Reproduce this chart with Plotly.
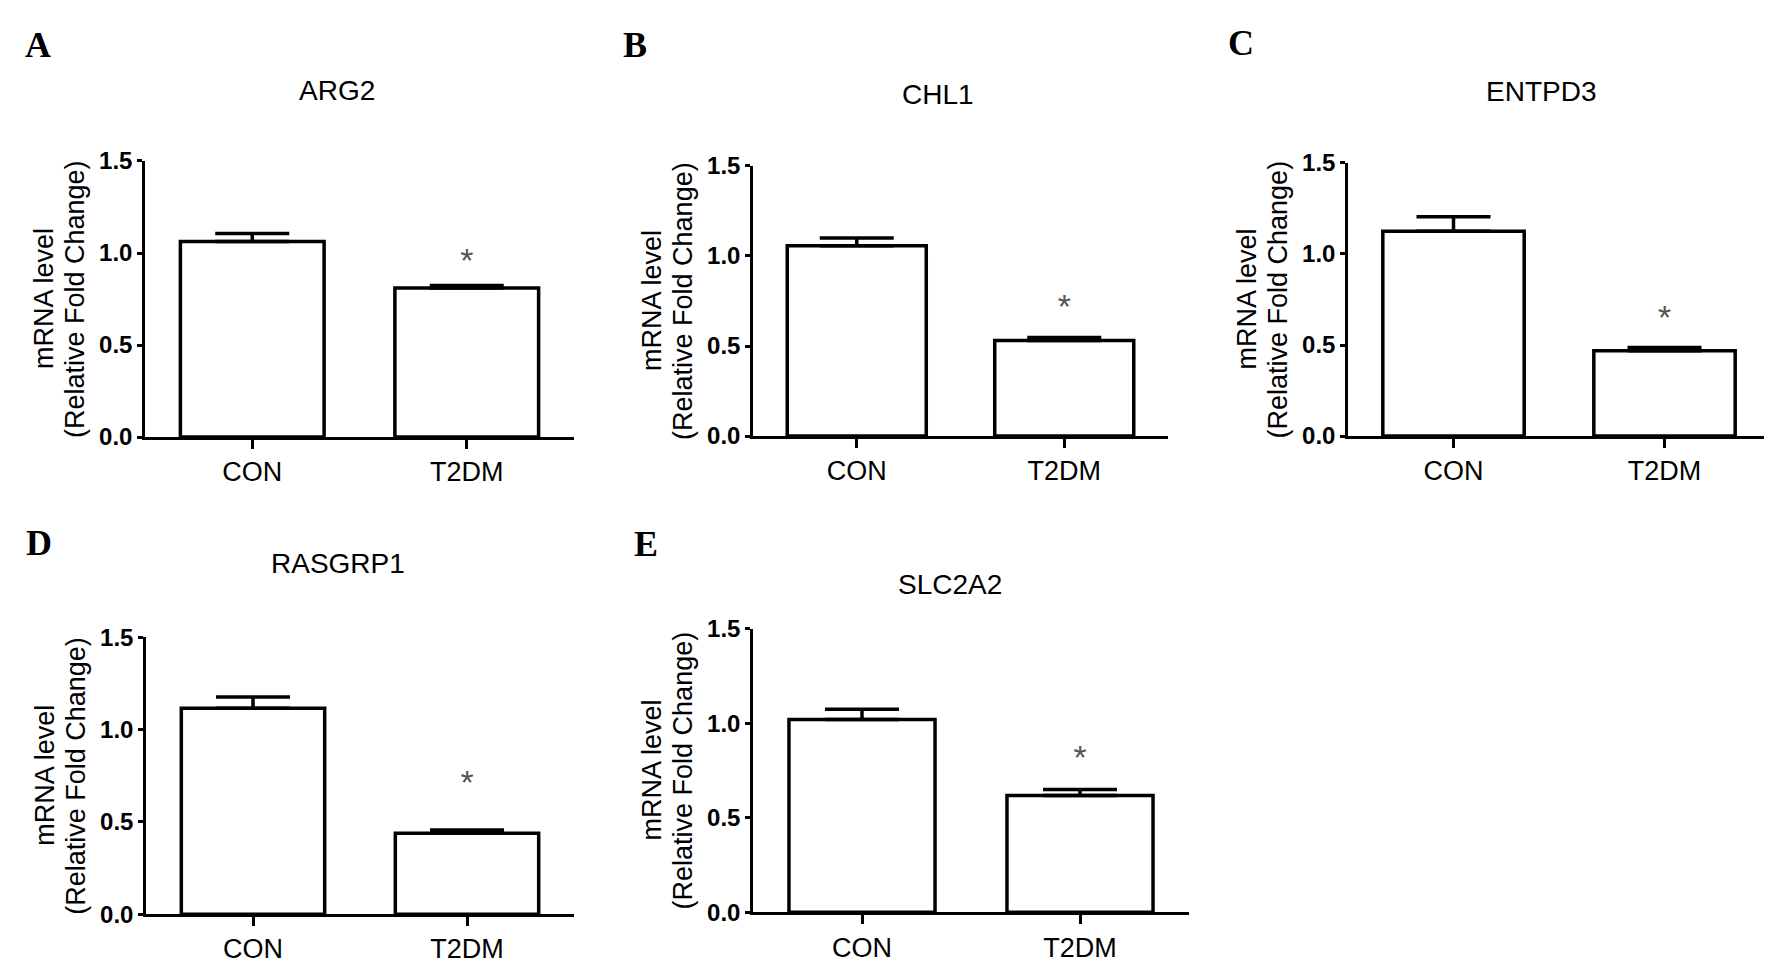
import plotly.graph_objects as go

W, H = 1772, 965

genes = ["ARG2", "CHL1", "ENTPD3", "RASGRP1", "SLC2A2"]
letters = ["A", "B", "C", "D", "E"]
groups = ["CON", "T2DM"]
con_mean = [1.062, 1.056, 1.125, 1.116, 1.019]
con_sem = [0.044, 0.044, 0.079, 0.061, 0.054]
t2dm_mean = [0.810, 0.531, 0.468, 0.439, 0.618]
t2dm_sem = [0.014, 0.016, 0.018, 0.017, 0.032]
star_y = [0.945, 0.70, 0.635, 0.70, 0.805]
y_ticks = [0.0, 0.5, 1.0, 1.5]
ytitle = ["mRNA level", "(Relative Fold Change)"]

# panel boxes in pixels: x0, x1, y_top, y_bottom
boxes = [(137, 566, 143, 427), (745, 1160, 148, 426), (1340, 1762, 145, 426),
         (138, 566, 633, 918), (745, 1181, 624, 916)]
title_pos = [(329, 70), (930, 75), (1533, 72), (330, 557), (942, 579)]
letter_pos = [(30, 24), (627, 24), (1233, 22), (31, 536), (638, 537)]

def px(x):
    return x / W

def py(y):
    return 1 - y / H

fig = go.Figure()
sans = "Liberation Sans, Arial"

for i, g in enumerate(genes):
    n = "" if i == 0 else str(i + 1)
    xa, ya = "x" + n, "y" + n
    fig.add_trace(go.Bar(
        x=groups, y=[con_mean[i], t2dm_mean[i]], xaxis=xa, yaxis=ya,
        width=0.67, marker=dict(color="white", line=dict(color="black", width=3.5)),
        error_y=dict(type="data", symmetric=False, array=[con_sem[i], t2dm_sem[i]],
                     arrayminus=[0, 0], color="black", thickness=3.5, width=37),
        showlegend=False))
    fig.add_trace(go.Scatter(
        x=[groups[1]], y=[star_y[i]], xaxis=xa, yaxis=ya, mode="text", text=["*"],
        textfont=dict(family=sans, size=34, color="#555555"), showlegend=False))

    x0, x1, yt, yb = boxes[i]
    fig.layout["xaxis" + n] = dict(
        domain=[px(x0), px(x1)], anchor=ya, range=[-0.5, 1.5], showline=True,
        linecolor="black", linewidth=2.5, ticks="outside", ticklen=9, tickwidth=2.5,
        tickcolor="black", showgrid=False, zeroline=False,
        tickfont=dict(family=sans, size=27, color="black"))
    fig.layout["yaxis" + n] = dict(
        domain=[py(yb), py(yt)], anchor=xa, range=[0, 1.5], tickvals=y_ticks,
        tickformat=".1f", showline=True, linecolor="black", linewidth=2.5,
        ticks="outside", ticklen=5, tickwidth=2.5, tickcolor="black",
        showgrid=False, zeroline=False,
        tickfont=dict(family=sans, size=24, color="black", weight="bold"))

    # two-line y title, one annotation per line
    for k, line in enumerate(ytitle):
        fig.add_annotation(x=px(x0 - 101 + 31 * k), y=py((yt + yb) / 2),
                           xref="paper", yref="paper", text=line, textangle=-90,
                           showarrow=False, xanchor="center", yanchor="middle",
                           font=dict(family=sans, size=27, color="black"))

    tx, ty = title_pos[i]
    fig.add_annotation(x=px(tx), y=py(ty), xref="paper", yref="paper", text=g,
                       showarrow=False, xanchor="center", yanchor="middle",
                       font=dict(family=sans, size=28, color="black"))
    lx, ly = letter_pos[i]
    fig.add_annotation(x=px(lx), y=py(ly), xref="paper", yref="paper",
                       text="<b>" + letters[i] + "</b>", showarrow=False,
                       xanchor="center", yanchor="middle",
                       font=dict(family="Liberation Serif, Times New Roman", size=36,
                                 color="black"))

fig.update_layout(width=W, height=H, margin=dict(l=0, r=0, t=0, b=0),
                  plot_bgcolor="white", paper_bgcolor="white")

fig.write_html("out.html")
